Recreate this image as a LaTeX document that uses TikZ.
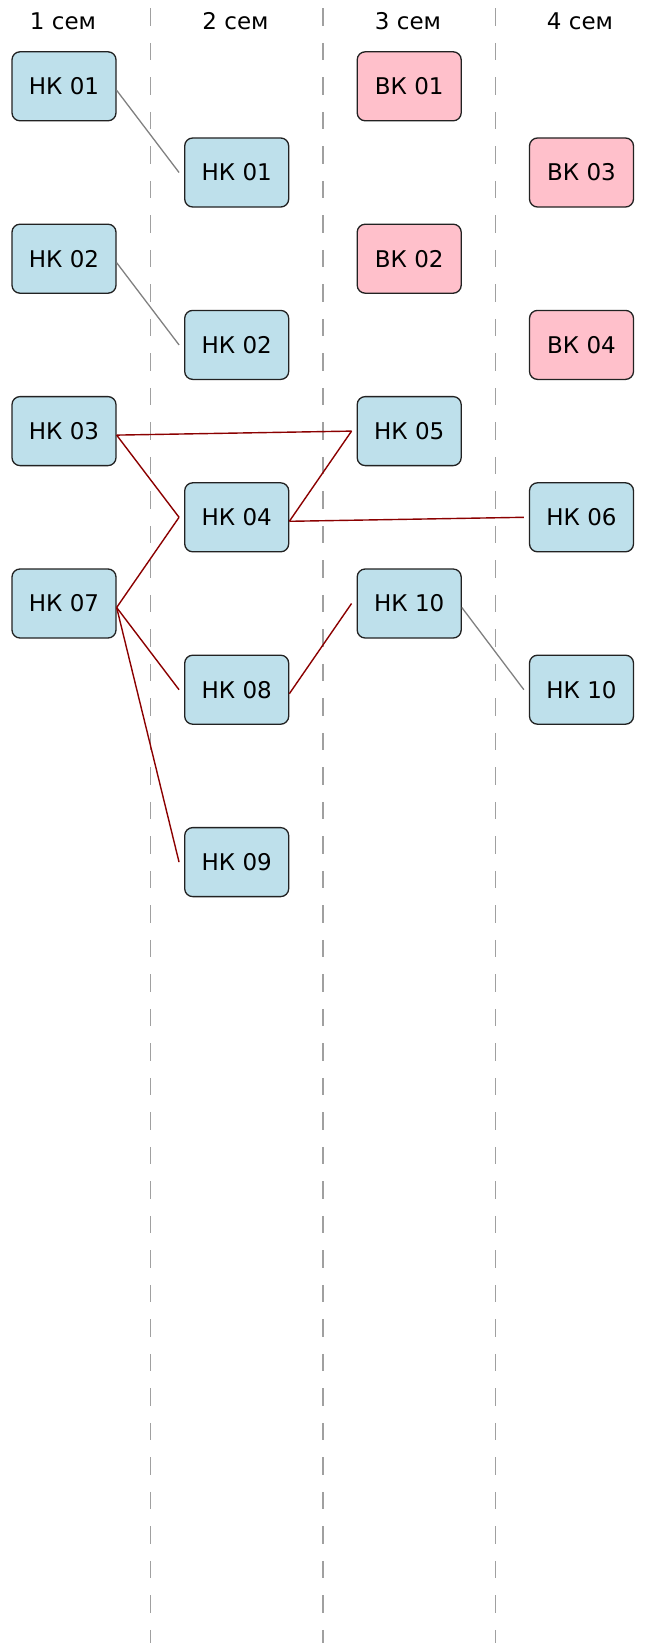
\documentclass[tikz,border=0pt]{standalone}
\usepackage{fontspec}
\setmainfont{DejaVu Sans}
\definecolor{nkblue}{RGB}{190,224,235}
\definecolor{vkpink}{RGB}{255,192,203}
\definecolor{boxline}{RGB}{34,34,34}
\definecolor{sepgray}{RGB}{160,160,160}
\definecolor{linkgray}{RGB}{128,128,128}
\definecolor{linkred}{RGB}{139,0,0}
\begin{document}
\begin{tikzpicture}[x=1pt,y=-1pt,
  box/.style={draw=boxline, line width=1.3pt, rounded corners=8pt,
    minimum width=104pt, minimum height=69pt, inner sep=0pt,
    font=\fontsize{23}{27}\selectfont},
  nk/.style={box, fill=nkblue},
  vk/.style={box, fill=vkpink},
  head/.style={anchor=base, inner sep=0pt, font=\fontsize{23}{27}\selectfont},
  sep/.style={draw=sepgray, line width=1.7pt, dash pattern=on 17.3pt off 17.2pt},
  lgray/.style={draw=linkgray, line width=1.3pt},
  lred/.style={draw=linkred, line width=1.4pt}]
\useasboundingbox (0,0) rectangle (659,1643);
% separators
\coordinate (s1t) at (150.5,8.3); \coordinate (s1b) at (150.5,1643);
\coordinate (s2t) at (323,8.3); \coordinate (s2b) at (323,1643);
\coordinate (s3t) at (495.5,8.3); \coordinate (s3b) at (495.5,1643);
\draw[sep] (s1t) -- (s1b);
\draw[sep] (s2t) -- (s2b);
\draw[sep] (s3t) -- (s3b);
% headers
\node[head] (h1) at (63,29.3) {1 сем};
\node[head] (h2) at (235.5,29.3) {2 сем};
\node[head] (h3) at (408,29.3) {3 сем};
\node[head] (h4) at (580,29.3) {4 сем};
% column 1
\node[nk] (a01) at (64,86.3) {НК 01};
\node[nk] (a02) at (64,258.7) {НК 02};
\node[nk] (a03) at (64,431.1) {НК 03};
\node[nk] (a07) at (64,603.5) {НК 07};
% column 2
\node[nk] (b01) at (236.7,172.5) {НК 01};
\node[nk] (b02) at (236.7,344.9) {НК 02};
\node[nk] (b04) at (236.7,517.3) {НК 04};
\node[nk] (b08) at (236.7,689.7) {НК 08};
\node[nk] (b09) at (236.7,862.1) {НК 09};
% column 3
\node[vk] (c01) at (409.2,86.3) {ВК 01};
\node[vk] (c02) at (409.2,258.7) {ВК 02};
\node[nk] (c05) at (409.2,431.1) {НК 05};
\node[nk] (c10) at (409.2,603.5) {НК 10};
% column 4
\node[vk] (d03) at (581.5,172.5) {ВК 03};
\node[vk] (d04) at (581.5,344.9) {ВК 04};
\node[nk] (d06) at (581.5,517.3) {НК 06};
\node[nk] (d10) at (581.5,689.7) {НК 10};
% links
\draw[lgray] ([yshift=-4pt]a01.east) -- ([xshift=-5pt]b01.west);
\draw[lgray] ([yshift=-4pt]a02.east) -- ([xshift=-5pt]b02.west);
\draw[lred] ([yshift=-4pt]a03.east) -- ([xshift=-5pt]c05.west);
\draw[lred] ([yshift=-4pt]a03.east) -- ([xshift=-5pt]b04.west);
\draw[lred] ([yshift=-4pt]a07.east) -- ([xshift=-5pt]b04.west);
\draw[lred] ([yshift=-4pt]a07.east) -- ([xshift=-5pt]b08.west);
\draw[lred] ([yshift=-4pt]a07.east) -- ([xshift=-5pt]b09.west);
\draw[lred] ([yshift=-4pt]b04.east) -- ([xshift=-5pt]c05.west);
\draw[lred] ([yshift=-4pt]b04.east) -- ([xshift=-5pt]d06.west);
\draw[lred] ([yshift=-4pt]b08.east) -- ([xshift=-5pt]c10.west);
\draw[lgray] ([yshift=-4pt]c10.east) -- ([xshift=-5pt]d10.west);
\end{tikzpicture}
\end{document}
